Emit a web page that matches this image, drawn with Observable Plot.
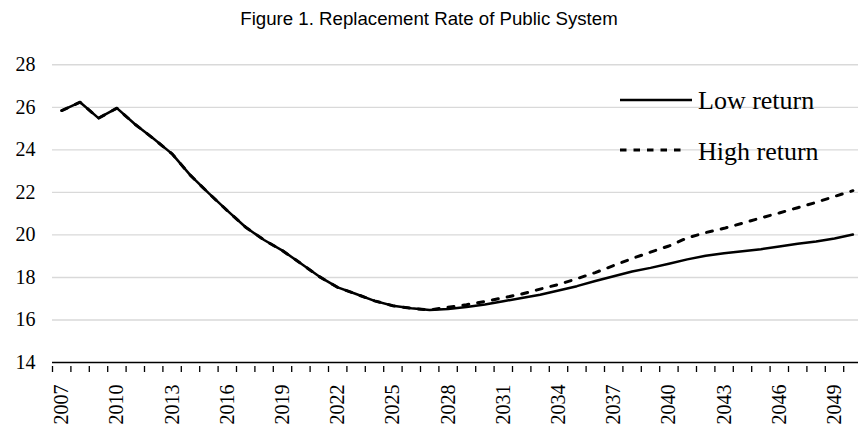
<!DOCTYPE html>
<html><head><meta charset="utf-8">
<script src="https://cdn.jsdelivr.net/npm/d3@7"></script>
<script src="https://cdn.jsdelivr.net/npm/@observablehq/plot@0.6"></script>
<style>
html,body{margin:0;padding:0;background:#fff;}
body{width:858px;height:426px;overflow:hidden;}
#title{font-family:"Liberation Sans",Arial,sans-serif;font-size:18.67px;height:36px;line-height:38px;text-align:center;color:#000;}
</style></head><body>
<div id="title">Figure 1. Replacement Rate of Public System</div>
<div id="chart"></div>
<script>
const years = [2007,2008,2009,2010,2011,2012,2013,2014,2015,2016,
  2017,2018,2019,2020,2021,2022,2023,2024,2025,2026,
  2027,2028,2029,2030,2031,2032,2033,2034,2035,2036,
  2037,2038,2039,2040,2041,2042,2043,2044,2045,2046,
  2047,2048,2049,2050];
const lowReturn = [25.85,26.24,25.49,25.96,25.19,24.52,23.81,22.8,21.95,21.14,
  20.36,19.76,19.26,18.66,18.04,17.53,17.22,16.9,16.67,16.55,
  16.47,16.52,16.61,16.73,16.88,17.03,17.19,17.39,17.59,17.83,
  18.06,18.28,18.45,18.64,18.85,19.02,19.14,19.23,19.33,19.45,
  19.58,19.69,19.83,20.02];
const highReturn = [25.85,26.24,25.49,25.96,25.19,24.52,23.81,22.8,21.95,21.14,
  20.36,19.76,19.26,18.66,18.04,17.53,17.22,16.9,16.67,16.55,
  16.47,16.6,16.72,16.87,17.04,17.22,17.45,17.67,17.94,18.23,
  18.56,18.89,19.19,19.48,19.86,20.11,20.31,20.55,20.8,21.03,
  21.28,21.53,21.81,22.08];
const yTicks = [14,16,18,20,22,24,26,28];
const xLabels = [2007,2010,2013,2016,2019,2022,2025,2028,2031,2034,2037,2040,2043,2046,2049];
const seriesNames = ["Low return","High return"];

const T = 36;
const lowData = years.map((y,i)=>({year:y, value:lowReturn[i], series:seriesNames[0]}));
const highData = years.map((y,i)=>({year:y, value:highReturn[i], series:seriesNames[1]}));
const boundaries = years.map(y=>y-0.5).concat([years[years.length-1]+0.5]);

const plot = Plot.plot({
  width: 858, height: 390,
  marginLeft: 52, marginRight: 0, marginTop: 20, marginBottom: 60,
  x: {domain: [years[0]-0.5, years[years.length-1]+0.5], range: [52, 861.6]},
  y: {domain: [14, 28], range: [362-T, 64.3-T]},
  style: {fontFamily: '"Liberation Serif","Times New Roman",serif', fontSize: "20px", color: "#000", background: "#fff", overflow: "visible"},
  marks: [
    Plot.ruleY(yTicks.filter(d=>d>14), {stroke: "#d9d9d9", strokeWidth: 1.4, strokeOpacity: 1}),
    Plot.axisY({ticks: yTicks, tickSize: 0, tickPadding: 17, label: null, fontSize: 20, tickFormat: d=>String(d)}),
    Plot.axisX({ticks: boundaries, tickSize: 6, tickFormat: ()=>"", label: null, stroke: "#000", strokeWidth: 1.3}),
    Plot.axisX({ticks: xLabels, tickSize: 0, tickPadding: 18, tickRotate: -90, label: null, fontSize: 20, tickFormat: d=>String(d)}),
    Plot.ruleY([14], {stroke: "#000", strokeWidth: 1.3}),
    Plot.lineY(highData, {x: "year", y: "value", stroke: "#000", strokeWidth: 3, strokeDasharray: "6,9"}),
    Plot.lineY(lowData, {x: "year", y: "value", stroke: "#000", strokeWidth: 2.5})
  ]
});
document.getElementById("chart").appendChild(plot);

// legend
const svg = d3.select(plot);
const lg = svg.append("g")
  .attr("font-family", '"Liberation Serif","Times New Roman",serif')
  .attr("font-size", 26)
  .attr("text-anchor", "start")
  .style("font-size", "26px");
lg.append("line").attr("x1", 620).attr("x2", 692).attr("y1", 100-T).attr("y2", 100-T).attr("stroke", "#000").attr("stroke-width", 2.5);
lg.append("text").attr("x", 698).attr("y", 109.3-T).attr("text-anchor", "start").attr("fill", "#000").text(seriesNames[0]);
lg.append("line").attr("x1", 620).attr("x2", 684).attr("y1", 150-T).attr("y2", 150-T).attr("stroke", "#000").attr("stroke-width", 3).attr("stroke-dasharray", "6.5,7");
lg.append("text").attr("x", 698).attr("y", 160-T).attr("text-anchor", "start").attr("fill", "#000").text(seriesNames[1]);
</script>
</body></html>
